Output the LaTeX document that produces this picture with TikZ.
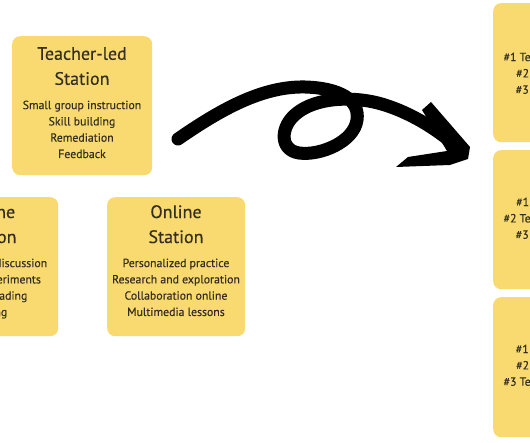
\documentclass[tikz,border=0pt]{standalone}
\usepackage{fontspec}
\setmainfont{PT Sans}
\newfontfamily\medfont{PT Sans}[FakeBold=0.35]
\definecolor{boxy}{RGB}{249,218,112}
\definecolor{ink}{RGB}{52,46,30}
\begin{document}
\begin{tikzpicture}[x=1pt,y=-1pt,
  card/.style={fill=boxy, draw=none, rounded corners=8pt, anchor=north west, inner sep=0pt},
  ttl/.style={font=\medfont\fontsize{18}{25}\selectfont, text=ink, align=center, inner sep=0pt, anchor=north},
  body/.style={font=\medfont\fontsize{11.8}{16.3}\selectfont, text=ink, align=center, inner sep=0pt, anchor=north},
  brush/.style={line width=13pt, line cap=round, line join=round, draw=black}
]
\useasboundingbox (0,0) rectangle (530,443);
\fill[white] (0,0) rectangle (530,443);
\clip (0,0) rectangle (530,443);

% Teacher-led station
\node[card, minimum width=140pt, minimum height=139pt] (teach) at (12,36) {};
\node[ttl] (teachT) at (82,47) {Teacher-led\\Station};
\node[body] (teachB) at (82,100.5) {Small group instruction\\Skill building\\Remediation\\Feedback};

% Offline station (cut at left edge)
\node[card, minimum width=138pt, minimum height=139pt] (off) at (-80,197) {};
\node[ttl] (offT) at (-11,205) {Offline\\Station};
\node[body] (offB) at (-11,258.5) {Small group discussion\\Science experiments\\Guided reading\\Writing};

% Online station
\node[card, minimum width=138pt, minimum height=139pt] (onl) at (107,197) {};
\node[ttl] (onlT) at (176,205) {Online\\Station};
\node[body] (onlB) at (176,258.5) {Personalized practice\\Research and exploration\\Collaboration online\\Multimedia lessons};

% Rotation cards (cut at right edge)
\node[card, minimum width=94pt, minimum height=139pt] (g1) at (493,3) {};
\node[body] (g1B) at (541,52.5) {\#1 Teacher-led\\\#2 Online\\\#3 Offline};
\node[card, minimum width=94pt, minimum height=139pt] (g2) at (493,150) {};
\node[body] (g2B) at (541,197.5) {\#1 Online\\\#2 Teacher-led\\\#3 Offline};
\node[card, minimum width=94pt, minimum height=140pt] (g3) at (493,297) {};
\node[body] (g3B) at (541,344.5) {\#1 Offline\\\#2 Online\\\#3 Teacher-led};

% Looping brush arrow
\coordinate (aS) at (178,139);
\coordinate (aE) at (455,145);
\draw[brush] (aS) .. controls (220,110) and (262,86) .. (305,87)
  .. controls (340,88) and (360,100) .. (357,120)
  .. controls (354,142) and (320,156) .. (299,153)
  .. controls (279,150) and (280,126) .. (297,113)
  .. controls (316,98) and (350,96) .. (378,103)
  .. controls (408,111) and (435,128) .. (aE);
\fill[black] (422,110) -- (431,102) -- (470,147) -- (468,159)
  -- (450,165) -- (396,167) -- (408,157) -- (447,151) -- cycle;
\end{tikzpicture}
\end{document}
